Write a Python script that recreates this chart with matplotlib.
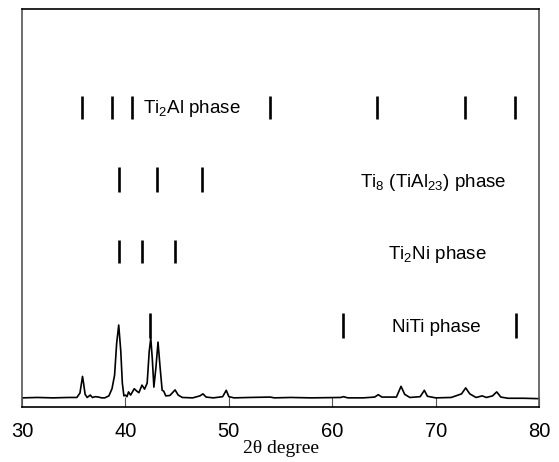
import numpy as np
import matplotlib.pyplot as plt

plt.rcParams['mathtext.fontset'] = 'custom'
plt.rcParams['mathtext.rm'] = 'Liberation Sans'

# XRD pattern (2theta, intensity in arbitrary units)
two_theta = [30.0, 31.5, 33.0, 34.5, 35.3, 35.6, 35.75, 35.85, 35.95, 36.1, 36.3, 36.6, 36.8, 37.1, 37.4, 37.7,
             38.0, 38.4, 38.7, 38.95, 39.15, 39.35, 39.55, 39.7, 39.85, 40.0, 40.15, 40.3, 40.5,
             40.85, 41.1, 41.3, 41.6, 41.85, 42.1, 42.3, 42.45, 42.6, 42.75, 42.95, 43.15,
             43.35, 43.55, 43.7, 43.9, 44.3, 44.8, 45.1, 45.5, 46.5, 47.2, 47.5, 47.8, 48.5,
             49.4, 49.75, 50.0, 50.5, 52.0, 54.0, 54.4, 56.0, 58.0, 60.8, 61.1, 61.5, 63.0, 64.1, 64.45,
             64.8, 66.2, 66.65, 67.0, 67.5, 68.5, 68.9, 69.2, 70.0, 71.5, 72.5, 72.9, 73.3,
             73.9, 74.5, 74.9, 75.5, 75.9, 76.3, 77.0, 78.5, 80.0]
intensity = [2.3, 2.4, 2.3, 2.4, 2.4, 3.5, 6.0, 7.7, 6.0, 3.2, 2.4, 3.0, 2.4, 2.6, 2.5, 2.3,
             2.3, 2.8, 4.6, 8.0, 16.0, 20.6, 14.0, 6.0, 2.8, 3.0, 2.6, 3.8, 3.0,
             4.6, 4.0, 3.6, 5.5, 4.5, 6.0, 14.0, 17.3, 12.0, 5.0, 10.0, 16.3,
             10.0, 4.2, 4.0, 2.8, 2.9, 4.3, 3.0, 2.4, 2.3, 2.8, 3.3, 2.5, 2.3,
             2.6, 4.2, 2.6, 2.3, 2.4, 2.5, 2.3, 2.4, 2.3, 2.4, 2.6, 2.3, 2.3, 2.5, 3.1,
             2.5, 2.5, 5.2, 3.2, 2.4, 2.6, 4.2, 2.7, 2.3, 2.4, 3.3, 4.8, 3.3,
             2.4, 2.8, 2.4, 2.8, 3.8, 2.5, 2.2, 2.2, 2.1]

# reference peak positions for each phase
ti2al_pos = [35.76, 38.72, 40.6, 54.0, 64.33, 72.8, 77.65]
ti8_pos = [39.36, 43.03, 47.4]
ti2ni_pos = [39.33, 41.57, 44.8]
niti_pos = [42.38, 61.07, 77.8]

fig = plt.figure(figsize=(5.59, 4.62), dpi=100)
ax = fig.add_axes([0.0394, 0.119, 0.925, 0.8615])

ax.plot(two_theta, intensity, color='k', lw=1.2)

stick = dict(colors='k', lw=1.9)
ax.vlines(ti2al_pos, 72.4, 78.1, **stick)
ax.vlines(ti8_pos, 54.0, 60.3, **stick)
ax.vlines(ti2ni_pos, 36.2, 42.0, **stick)
ax.vlines(niti_pos, 17.3, 23.6, **stick)

txt = dict(fontsize=13.5, family='Liberation Sans', va='center', ha='left')
ax.text(41.7, 75.1, r'Ti$_2$Al phase', **txt)
ax.text(62.7, 56.5, r'Ti$_8$ (TiAl$_{23}$) phase', **txt)
ax.text(65.4, 38.2, r'Ti$_2$Ni phase', **txt)
ax.text(65.8, 20.1, 'NiTi phase', **txt)

ax.set_xlim(30, 80)
ax.set_ylim(0, 100)
ax.set_xticks([30, 40, 50, 60, 70, 80])
ax.set_yticks([])
ax.tick_params(axis='x', direction='in', length=7, color='#555555', pad=11,
               labelsize=14.5)
for lab in ax.get_xticklabels():
    lab.set_family('Liberation Sans')
ax.set_xlabel('2θ degree', family='Liberation Serif', fontsize=14, labelpad=-1)

ax.spines['left'].set_color('#555555')
ax.spines['right'].set_color('#555555')
for s in ax.spines.values():
    s.set_linewidth(1.2)

plt.savefig('out.png', dpi=100)
